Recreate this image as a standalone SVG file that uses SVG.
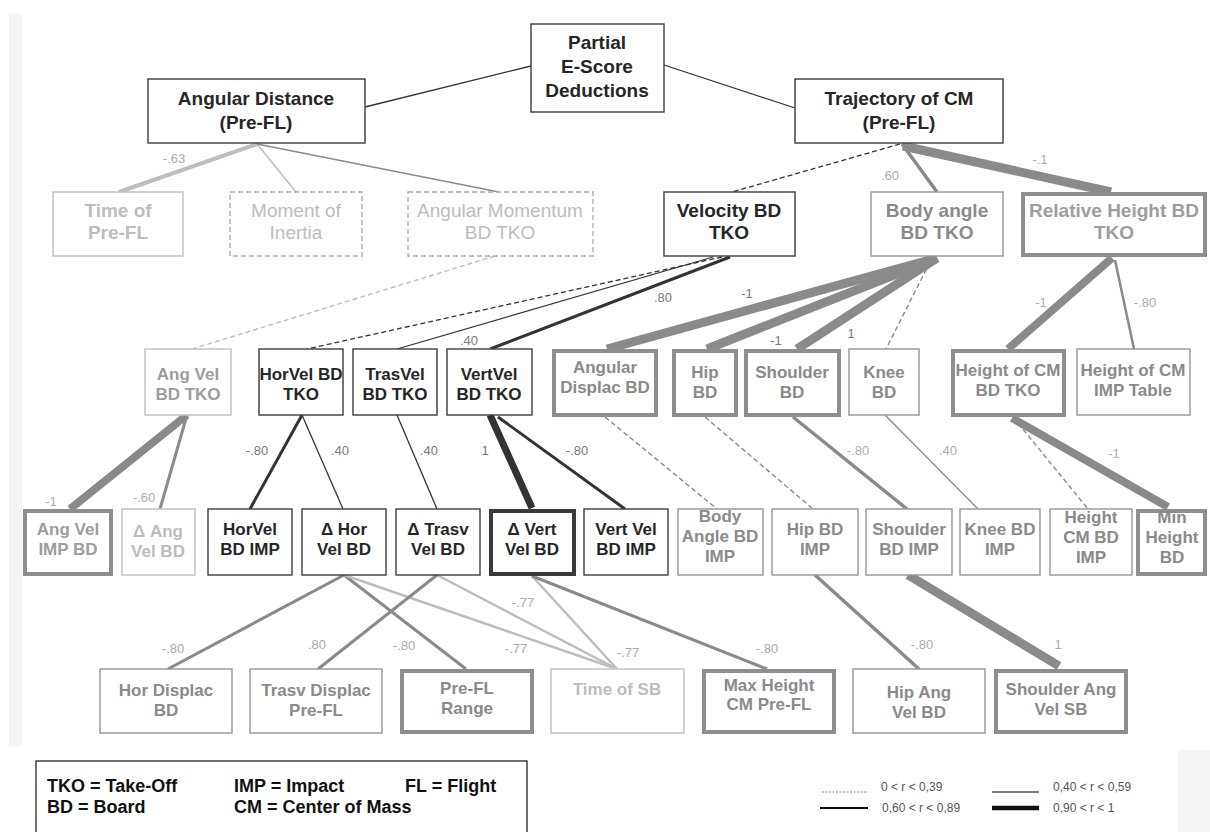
<svg xmlns="http://www.w3.org/2000/svg" width="1210" height="832" viewBox="0 0 1210 832">
<style>
.bg{fill:#ffffff}
.box{fill:#ffffff}
.bdk{stroke:#3c3c3c;stroke-width:1.4}
.bdk4{stroke:#3a3a3a;stroke-width:4}
.bgr{stroke:#959595;stroke-width:1.4}
.bgr4{stroke:#8e8e8e;stroke-width:4}
.blt{stroke:#c2c2c2;stroke-width:1.5}
.bdash{stroke:#a8a8a8;stroke-width:1.3;stroke-dasharray:5 3}
text{font-family:"Liberation Sans",Arial,sans-serif;text-anchor:middle}
.t19{font-size:19px;font-weight:bold}
.t19n{font-size:19px;font-weight:normal}
.t17{font-size:17px;font-weight:bold}
.tdk{fill:#262626}
.tgr{fill:#8a8a8a}
.tmd{fill:#9d9d9d}
.tlt{fill:#bcbcbc}
.lab{font-size:13px;fill:#7a7a7a}
.labl{font-size:13px;fill:#ababab}
.leg{font-size:18px;font-weight:bold;fill:#111;text-anchor:start}
.legs{font-size:12px;fill:#555;text-anchor:start}
line{fill:none}
.cdk{stroke:#333;stroke-width:1.3}
.cdk3{stroke:#333;stroke-width:3}
.cdk7{stroke:#333;stroke-width:7}
.cgr{stroke:#8a8a8a}
.clt{stroke:#bdbdbd}
.dsh{stroke-dasharray:5 3}
</style>
<rect class="bg" x="0" y="0" width="1210" height="832"/>
<rect x="9" y="14" width="13" height="732" fill="#f4f4f4"/>
<rect x="1178" y="750" width="32" height="82" fill="#f4f4f4"/>

<g id="connectors">
  <line class="cdk" x1="365" y1="107" x2="531" y2="66"/>
  <line class="cdk" x1="664" y1="65" x2="795" y2="108"/>
  <line class="clt" stroke-width="4" x1="257" y1="144" x2="119" y2="192"/>
  <line class="clt" stroke-width="1.5" x1="257" y1="144" x2="296" y2="192"/>
  <line class="cgr" stroke-width="1.5" x1="257" y1="144" x2="499" y2="192"/>
  <line class="cdk dsh" x1="900" y1="144" x2="732" y2="192"/>
  <line class="cgr" stroke-width="3.5" x1="902" y1="144" x2="937" y2="192"/>
  <line class="cgr" stroke-width="9" x1="903" y1="146" x2="1111" y2="192"/>
  <line class="cdk dsh" x1="722" y1="257" x2="307" y2="349"/>
  <line class="cdk" x1="713" y1="257" x2="397" y2="349"/>
  <line class="cdk3" x1="730" y1="257" x2="490" y2="349"/>
  <line class="clt dsh" stroke-width="1.4" x1="495" y1="256" x2="192" y2="349"/>
  <line class="cgr" stroke-width="9" x1="937" y1="258" x2="607" y2="349"/>
  <line class="cgr" stroke-width="9" x1="937" y1="258" x2="707" y2="349"/>
  <line class="cgr" stroke-width="9" x1="937" y1="258" x2="797" y2="349"/>
  <line class="cgr dsh" stroke-width="1.4" x1="930" y1="262" x2="886" y2="349"/>
  <line class="cgr" stroke-width="8" x1="1112" y1="258" x2="1008" y2="349"/>
  <line class="cgr" stroke-width="2.5" x1="1115" y1="260" x2="1134" y2="349"/>
  <line class="cgr" stroke-width="8" x1="187" y1="415" x2="70" y2="509"/>
  <line class="cgr" stroke-width="3" stroke="#9a9a9a" x1="187" y1="415" x2="160" y2="509"/>
  <line class="cdk3" x1="302" y1="415" x2="250" y2="509"/>
  <line class="cdk" x1="302" y1="415" x2="343" y2="509"/>
  <line class="cdk" x1="397" y1="415" x2="437" y2="509"/>
  <line class="cdk7" x1="490" y1="415" x2="532" y2="508"/>
  <line class="cdk3" x1="498" y1="417" x2="625" y2="509"/>
  <line class="cgr dsh" stroke-width="1.4" x1="605" y1="417" x2="717" y2="509"/>
  <line class="cgr dsh" stroke-width="1.4" x1="705" y1="417" x2="813" y2="509"/>
  <line class="cgr" stroke-width="3.5" x1="793" y1="417" x2="907" y2="509"/>
  <line class="cgr" stroke-width="1.3" x1="885" y1="415" x2="978" y2="509"/>
  <line class="cgr" stroke-width="8" x1="1012" y1="418" x2="1168" y2="507"/>
  <line class="cgr dsh" stroke-width="1.4" x1="1013" y1="417" x2="1088" y2="509"/>
  <line class="cgr" stroke-width="3" x1="344" y1="575" x2="168" y2="669"/>
  <line class="cgr" stroke-width="3" x1="344" y1="575" x2="466" y2="669"/>
  <line class="clt" stroke-width="2.5" x1="344" y1="575" x2="617" y2="669"/>
  <line class="cgr" stroke-width="3" x1="437" y1="575" x2="318" y2="669"/>
  <line class="clt" stroke-width="2.5" x1="437" y1="575" x2="617" y2="669"/>
  <line class="clt" stroke-width="2.5" x1="532" y1="576" x2="617" y2="669"/>
  <line class="cgr" stroke-width="3" x1="532" y1="576" x2="767" y2="669"/>
  <line class="cgr" stroke-width="3.5" x1="815" y1="575" x2="919" y2="669"/>
  <line class="cgr" stroke-width="9" x1="908" y1="575" x2="1059" y2="666"/>
</g>

<g id="labels">
  <text class="labl" x="174" y="163">-.63</text>
  <text class="labl" x="890" y="180">.60</text>
  <text class="labl" x="1040" y="164">-.1</text>
  <text class="lab" x="469" y="345">.40</text>
  <text class="lab" x="663" y="302">.80</text>
  <text class="lab" x="747" y="298">-1</text>
  <text class="lab" x="776" y="345">-1</text>
  <text class="lab" x="851" y="338">1</text>
  <text class="labl" x="1041" y="307">-1</text>
  <text class="labl" x="1145" y="307">-.80</text>
  <text class="lab" x="257" y="455">-.80</text>
  <text class="lab" x="340" y="455">.40</text>
  <text class="lab" x="429" y="455">.40</text>
  <text class="lab" x="485" y="455">1</text>
  <text class="lab" x="577" y="455">-.80</text>
  <text class="labl" x="858" y="455">-.80</text>
  <text class="labl" x="948" y="455">.40</text>
  <text class="labl" x="1114" y="458">-1</text>
  <text class="labl" x="51" y="506">-1</text>
  <text class="labl" x="144" y="502">-.60</text>
  <text class="labl" x="523" y="607">-.77</text>
  <text class="labl" x="173" y="653">-.80</text>
  <text class="labl" x="317" y="649">.80</text>
  <text class="labl" x="404" y="650">-.80</text>
  <text class="labl" x="516" y="653">-.77</text>
  <text class="labl" x="628" y="657">-.77</text>
  <text class="labl" x="767" y="653">-.80</text>
  <text class="labl" x="922" y="649">-.80</text>
  <text class="labl" x="1058" y="649">1</text>
</g>

<!-- Row 1 -->
<g id="n_partial"><rect class="box bdk" x="531" y="24" width="133" height="88"/>
  <text class="t19 tdk" x="597" y="49">Partial</text><text class="t19 tdk" x="597" y="73">E-Score</text><text class="t19 tdk" x="597" y="97">Deductions</text></g>
<g id="n_angdist"><rect class="box bdk" x="148" y="79" width="217" height="64"/>
  <text class="t19 tdk" x="256" y="105">Angular Distance</text><text class="t19 tdk" x="256" y="129">(Pre-FL)</text></g>
<g id="n_traj"><rect class="box bdk" x="795" y="79" width="208" height="64"/>
  <text class="t19 tdk" x="899" y="105">Trajectory of CM</text><text class="t19 tdk" x="899" y="129">(Pre-FL)</text></g>

<!-- Row 2 -->
<g id="n_timepre"><rect class="box blt" x="53" y="192" width="130" height="64"/>
  <text class="t19 tlt" x="118" y="217">Time of</text><text class="t19 tlt" x="118" y="239">Pre-FL</text></g>
<g id="n_moment"><rect class="box bdash" stroke="#b4b4b4" x="230" y="192" width="132" height="64"/>
  <text class="t19n tlt" x="296" y="217">Moment of</text><text class="t19n tlt" x="296" y="239">Inertia</text></g>
<g id="n_angmom"><rect class="box bdash" x="408" y="192" width="185" height="64"/>
  <text class="t19n tlt" x="500" y="217">Angular Momentum</text><text class="t19n tlt" x="500" y="239">BD TKO</text></g>
<g id="n_velocity"><rect class="box bdk" stroke="#555" x="664" y="192" width="131" height="64"/>
  <text class="t19 tdk" x="729" y="217">Velocity BD</text><text class="t19 tdk" x="729" y="239">TKO</text></g>
<g id="n_bodyangle"><rect class="box bgr" stroke="#a8a8a8" x="871" y="192" width="132" height="64"/>
  <text class="t19 tgr" x="937" y="217">Body angle</text><text class="t19 tgr" x="937" y="239">BD TKO</text></g>
<g id="n_relheight"><rect class="box bgr4" stroke="#9a9a9a" x="1023" y="194" width="182" height="61"/>
  <text class="t19 tmd" x="1114" y="217">Relative Height BD</text><text class="t19 tmd" x="1114" y="239">TKO</text></g>

<!-- Row 3 -->
<g id="n_angvel_tko"><rect class="box blt" stroke="#acacac" x="145" y="349" width="86" height="66"/>
  <text class="t17 tmd" x="188" y="380">Ang Vel</text><text class="t17 tmd" x="188" y="400">BD TKO</text></g>
<g id="n_horvel_tko"><rect class="box bdk" x="259" y="349" width="84" height="66"/>
  <text class="t17 tdk" x="301" y="380">HorVel BD</text><text class="t17 tdk" x="301" y="400">TKO</text></g>
<g id="n_trasvel_tko"><rect class="box bdk" x="353" y="349" width="84" height="66"/>
  <text class="t17 tdk" x="395" y="380">TrasVel</text><text class="t17 tdk" x="395" y="400">BD TKO</text></g>
<g id="n_vertvel_tko"><rect class="box bdk" x="447" y="349" width="85" height="66"/>
  <text class="t17 tdk" x="489" y="380">VertVel</text><text class="t17 tdk" x="489" y="400">BD TKO</text></g>
<g id="n_angdisp"><rect class="box bgr4" x="554" y="351" width="102" height="64"/>
  <text class="t17 tgr" x="605" y="373">Angular</text><text class="t17 tgr" x="605" y="393">Displac BD</text></g>
<g id="n_hip"><rect class="box bgr4" x="674" y="351" width="62" height="64"/>
  <text class="t17 tgr" x="705" y="378">Hip</text><text class="t17 tgr" x="705" y="398">BD</text></g>
<g id="n_shoulder"><rect class="box bgr4" x="746" y="351" width="93" height="64"/>
  <text class="t17 tgr" x="792" y="378">Shoulder</text><text class="t17 tgr" x="792" y="398">BD</text></g>
<g id="n_knee"><rect class="box bgr" x="849" y="349" width="70" height="66"/>
  <text class="t17 tgr" x="884" y="378">Knee</text><text class="t17 tgr" x="884" y="398">BD</text></g>
<g id="n_heightcm_tko"><rect class="box bgr4" x="953" y="351" width="111" height="64"/>
  <text class="t17 tgr" x="1008" y="376">Height of CM</text><text class="t17 tgr" x="1008" y="396">BD  TKO</text></g>
<g id="n_heightcm_table"><rect class="box bgr" x="1077" y="349" width="113" height="66"/>
  <text class="t17 tgr" x="1133" y="376">Height of CM</text><text class="t17 tgr" x="1133" y="396">IMP Table</text></g>

<!-- Row 4 -->
<g id="n_angvel_imp"><rect class="box bgr4" stroke="#9a9a9a" x="25" y="511" width="86" height="63"/>
  <text class="t17 tmd" x="68" y="535">Ang Vel</text><text class="t17 tmd" x="68" y="555">IMP BD</text></g>
<g id="n_dang"><rect class="box blt" stroke="#b4b4b4" x="122" y="509" width="73" height="66"/>
  <text class="t17 tlt" x="158" y="537">Δ Ang</text><text class="t17 tlt" x="158" y="557">Vel BD</text></g>
<g id="n_horvel_imp"><rect class="box bdk" stroke="#555" x="208" y="509" width="84" height="66"/>
  <text class="t17 tdk" x="250" y="535">HorVel</text><text class="t17 tdk" x="250" y="555">BD IMP</text></g>
<g id="n_dhor"><rect class="box bdk" stroke="#555" x="302" y="509" width="84" height="66"/>
  <text class="t17 tdk" x="344" y="535">Δ Hor</text><text class="t17 tdk" x="344" y="555">Vel BD</text></g>
<g id="n_dtrasv"><rect class="box bdk" stroke="#555" x="396" y="509" width="84" height="66"/>
  <text class="t17 tdk" x="438" y="535">Δ Trasv</text><text class="t17 tdk" x="438" y="555">Vel BD</text></g>
<g id="n_dvert"><rect class="box bdk4" x="491" y="511" width="83" height="63"/>
  <text class="t17 tdk" x="532" y="535">Δ Vert</text><text class="t17 tdk" x="532" y="555">Vel BD</text></g>
<g id="n_vertvel_imp"><rect class="box bdk" stroke="#555" x="584" y="509" width="84" height="66"/>
  <text class="t17 tdk" x="626" y="535">Vert Vel</text><text class="t17 tdk" x="626" y="555">BD IMP</text></g>
<g id="n_bodyangle_imp"><rect class="box bgr" stroke="#a8a8a8" x="678" y="509" width="85" height="66"/>
  <text class="t17 tgr" x="720" y="522">Body</text><text class="t17 tgr" x="720" y="542">Angle BD</text><text class="t17 tgr" x="720" y="562">IMP</text></g>
<g id="n_hip_imp"><rect class="box bgr" stroke="#a8a8a8" x="772" y="509" width="86" height="66"/>
  <text class="t17 tgr" x="815" y="535">Hip BD</text><text class="t17 tgr" x="815" y="555">IMP</text></g>
<g id="n_shoulder_imp"><rect class="box bgr" stroke="#a8a8a8" x="866" y="509" width="86" height="66"/>
  <text class="t17 tgr" x="909" y="535">Shoulder</text><text class="t17 tgr" x="909" y="555">BD IMP</text></g>
<g id="n_knee_imp"><rect class="box bgr" stroke="#a8a8a8" x="960" y="509" width="80" height="66"/>
  <text class="t17 tgr" x="1000" y="535">Knee  BD</text><text class="t17 tgr" x="1000" y="555">IMP</text></g>
<g id="n_heightcm_imp"><rect class="box bgr" stroke="#a8a8a8" x="1050" y="509" width="82" height="66"/>
  <text class="t17 tgr" x="1091" y="523">Height</text><text class="t17 tgr" x="1091" y="543">CM BD</text><text class="t17 tgr" x="1091" y="563">IMP</text></g>
<g id="n_minheight"><rect class="box bgr4" stroke="#9a9a9a" x="1138" y="511" width="67" height="63"/>
  <text class="t17 tgr" x="1172" y="523">Min</text><text class="t17 tgr" x="1172" y="543">Height</text><text class="t17 tgr" x="1172" y="563">BD</text></g>

<!-- Row 5 -->
<g id="n_hordisp"><rect class="box bgr" stroke="#ababab" x="100" y="669" width="132" height="64"/>
  <text class="t17 tgr" x="166" y="696">Hor Displac</text><text class="t17 tgr" x="166" y="716">BD</text></g>
<g id="n_trasvdisp"><rect class="box bgr" stroke="#ababab" x="250" y="669" width="132" height="64"/>
  <text class="t17 tgr" x="316" y="696">Trasv Displac</text><text class="t17 tgr" x="316" y="716">Pre-FL</text></g>
<g id="n_prefl"><rect class="box bgr4" stroke="#9a9a9a" x="402" y="671" width="130" height="61"/>
  <text class="t17 tgr" x="467" y="694">Pre-FL</text><text class="t17 tgr" x="467" y="714">Range</text></g>
<g id="n_timesb"><rect class="box blt" x="551" y="669" width="133" height="64"/>
  <text class="t17 tlt" x="617" y="695">Time of SB</text></g>
<g id="n_maxheight"><rect class="box bgr4" stroke="#9a9a9a" x="704" y="671" width="130" height="61"/>
  <text class="t17 tgr" x="769" y="691">Max Height</text><text class="t17 tgr" x="769" y="710">CM Pre-FL</text></g>
<g id="n_hipang"><rect class="box bgr" stroke="#8a8a8a" x="853" y="669" width="132" height="64"/>
  <text class="t17 tgr" x="919" y="698">Hip Ang</text><text class="t17 tgr" x="919" y="718">Vel BD</text></g>
<g id="n_shoulderang"><rect class="box bgr4" x="996" y="671" width="130" height="61"/>
  <text class="t17 tgr" x="1061" y="695">Shoulder Ang</text><text class="t17 tgr" x="1061" y="715">Vel SB</text></g>

<!-- Legend -->
<g id="legend_abbrev">
  <rect x="36" y="761" width="491" height="90" fill="#fff" stroke="#333" stroke-width="1.4"/>
  <text class="leg" x="47" y="792">TKO = Take-Off</text>
  <text class="leg" x="234" y="792">IMP = Impact</text>
  <text class="leg" x="405" y="792">FL = Flight</text>
  <text class="leg" x="47" y="813">BD = Board</text>
  <text class="leg" x="234" y="813">CM = Center of Mass</text>
</g>
<g id="legend_lines">
  <line x1="822" y1="792" x2="868" y2="792" stroke="#888" stroke-width="1" stroke-dasharray="2 1.5"/>
  <text class="legs" x="881" y="791">0 &lt; r &lt; 0,39</text>
  <line x1="992" y1="792" x2="1039" y2="792" stroke="#555" stroke-width="1.3"/>
  <text class="legs" x="1053" y="791">0,40 &lt; r &lt; 0,59</text>
  <line x1="820" y1="808" x2="868" y2="808" stroke="#111" stroke-width="2"/>
  <text class="legs" x="882" y="812">0,60 &lt; r &lt; 0,89</text>
  <line x1="992" y1="808" x2="1039" y2="808" stroke="#111" stroke-width="4.5"/>
  <text class="legs" x="1053" y="812">0,90 &lt; r &lt; 1</text>
</g>
</svg>
